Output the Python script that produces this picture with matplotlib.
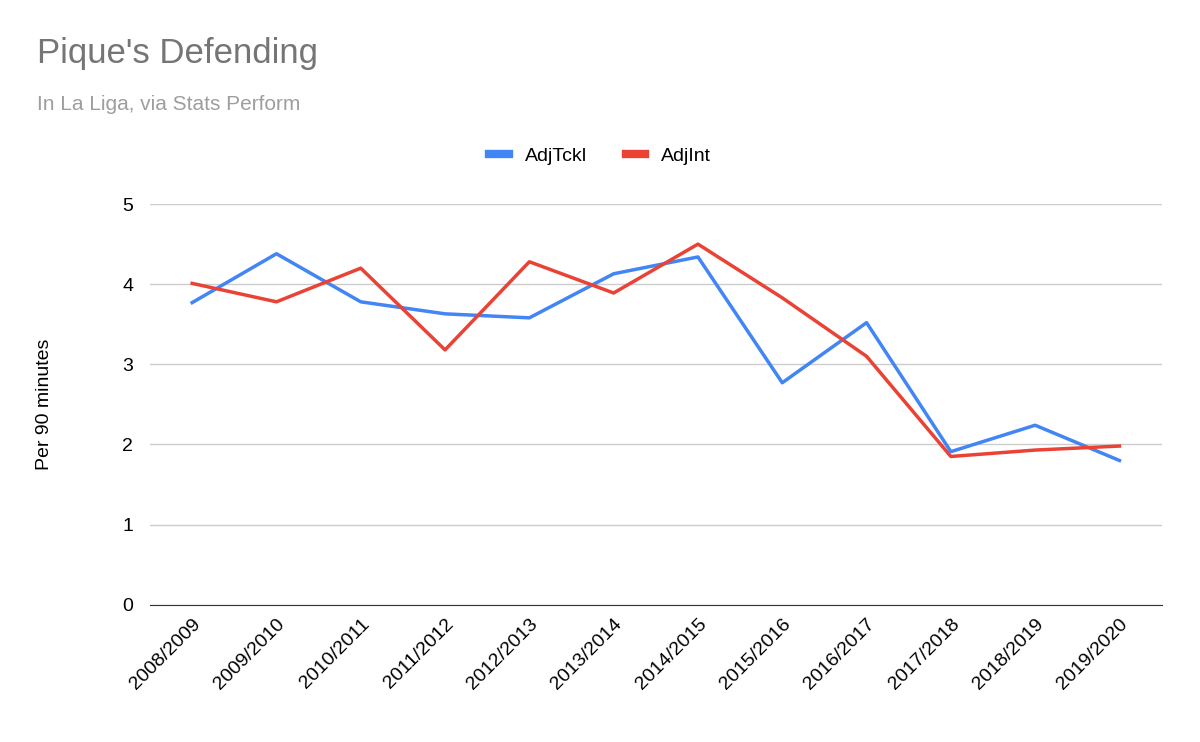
import matplotlib.pyplot as plt

plt.rcParams['font.family'] = 'Liberation Sans'

seasons = ['2008/2009', '2009/2010', '2010/2011', '2011/2012', '2012/2013', '2013/2014',
           '2014/2015', '2015/2016', '2016/2017', '2017/2018', '2018/2019', '2019/2020']
adj_tckl = [3.77, 4.38, 3.78, 3.63, 3.58, 4.13, 4.34, 2.77, 3.52, 1.91, 2.24, 1.80]
adj_int = [4.01, 3.78, 4.20, 3.18, 4.28, 3.89, 4.50, 3.83, 3.10, 1.85, 1.93, 1.98]

fig = plt.figure(figsize=(12, 7.42), dpi=100)
ax = fig.add_axes([0.125, 0.185, 0.843, 0.54])
x = range(len(seasons))
ax.plot(x, adj_tckl, color='#4285f4', linewidth=2.5, label='AdjTckl')
ax.plot(x, adj_int, color='#ea4335', linewidth=2.5, label='AdjInt')

ax.set_xlim(-0.5, len(seasons) - 0.5)
ax.set_ylim(0, 5)
ax.set_yticks([0, 1, 2, 3, 4, 5])
ax.set_xticks(list(x))
ax.set_xticklabels(seasons, rotation=45, ha='right', rotation_mode='anchor', fontsize=14)
ax.tick_params(axis='y', labelsize=14, length=0, pad=12)
ax.tick_params(axis='x', length=0, pad=8)
ax.grid(axis='y', color='#cccccc', linewidth=1)
ax.set_axisbelow(True)
for s in ['top', 'right', 'left']:
    ax.spines[s].set_visible(False)
ax.spines['bottom'].set_color('#333333')
ax.set_ylabel('Per 90 minutes', fontsize=14, labelpad=50)

fig.text(0.031, 0.915, "Pique's Defending", fontsize=25, color='#757575')
fig.text(0.031, 0.852, 'In La Liga, via Stats Perform', fontsize=15, color='#9e9e9e')
leg = fig.legend(loc='center', bbox_to_anchor=(0.5, 0.79), ncol=2, frameon=False,
                 fontsize=14, handlelength=1.0, columnspacing=2)
for line in leg.get_lines():
    line.set_linewidth(6)

plt.savefig('out.png', dpi=100)
